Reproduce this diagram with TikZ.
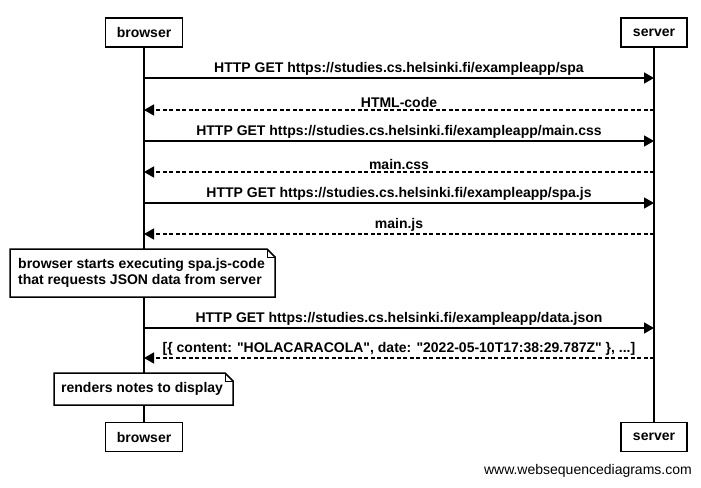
\documentclass[tikz,border=0pt]{standalone}
\usepackage{fontspec}
\setmainfont{Liberation Sans}[Ligatures=TeXOff]
\usetikzlibrary{arrows.meta}
\newcommand{\diafont}{\fontsize{14}{16}\selectfont}
\tikzset{
  actor/.style={draw,line width=1.5pt,fill=white,font=\diafont\bfseries,minimum height=29pt,inner sep=0pt},
  life/.style={line width=1.5pt},
  msg/.style={line width=1.5pt,-{Triangle[length=10pt,width=11pt]}},
  reply/.style={msg,dash pattern=on 4pt off 2.5pt},
  lbl/.style={font=\diafont\bfseries,inner sep=1.5pt},
  notebox/.style={draw,line width=1.5pt,fill=white,line join=miter}
}
\begin{document}
\begin{tikzpicture}[x=1pt,y=-1pt]
  \useasboundingbox (0,0) rectangle (701,487);
  % lifelines
  \draw[life] (144,32) -- (144,437);
  \draw[life] (654,32) -- (654,437);
  % participants
  \node[actor,minimum width=77pt] (browser) at (144,32.5) {browser};
  \node[actor,minimum width=66pt] (server) at (654,32.5) {server};
  \node[actor,minimum width=77pt] (browserB) at (144,437) {browser};
  \node[actor,minimum width=66pt] (serverB) at (654,437) {server};
  % message points
  \foreach \n/\y in {1/78,2/110,3/141,4/172,5/203,6/234,7/328,8/358}{
    \coordinate (b\n) at (144,\y);
    \coordinate (s\n) at (654,\y);
  }
  \draw[msg] (b1) -- (s1) node[midway,above,lbl] {HTTP GET https://studies.cs.helsinki.fi/exampleapp/spa};
  \draw[reply] (s2) -- (b2) node[midway,above,lbl] {HTML-code};
  \draw[msg] (b3) -- (s3) node[midway,above,lbl] {HTTP GET https://studies.cs.helsinki.fi/exampleapp/main.css};
  \draw[reply] (s4) -- (b4) node[midway,above,lbl] {main.css};
  \draw[msg] (b5) -- (s5) node[midway,above,lbl] {HTTP GET https://studies.cs.helsinki.fi/exampleapp/spa.js};
  \draw[reply] (s6) -- (b6) node[midway,above,lbl] {main.js};
  \draw[msg] (b7) -- (s7) node[midway,above,lbl] {HTTP GET https://studies.cs.helsinki.fi/exampleapp/data.json};
  \draw[reply] (s8) -- (b8) node[midway,above,lbl] {[\{ content: "HOLACARACOLA", date: "2022-05-10T17:38:29.787Z" \}, ...]};
  % notes
  \draw[notebox] (10,249) -- (267,249) -- (275,257) -- (275,297) -- (10,297) -- cycle;
  \draw[line width=1pt] (267,249) -- (267,257) -- (275,257);
  \node[font=\diafont\bfseries,align=left,anchor=west,inner sep=0pt] (note1) at (18,273)
    {browser starts executing spa.js-code\\that requests JSON data from server};
  \draw[notebox] (54,373) -- (225,373) -- (233,381) -- (233,405) -- (54,405) -- cycle;
  \draw[line width=1pt] (225,373) -- (225,381) -- (233,381);
  \node[font=\diafont\bfseries,anchor=west,inner sep=0pt] (note2) at (61,389) {renders notes to display};
  % watermark
  \node[font=\diafont,anchor=east,inner sep=0pt] (wsd) at (692,471) {www.websequencediagrams.com};
\end{tikzpicture}
\end{document}
